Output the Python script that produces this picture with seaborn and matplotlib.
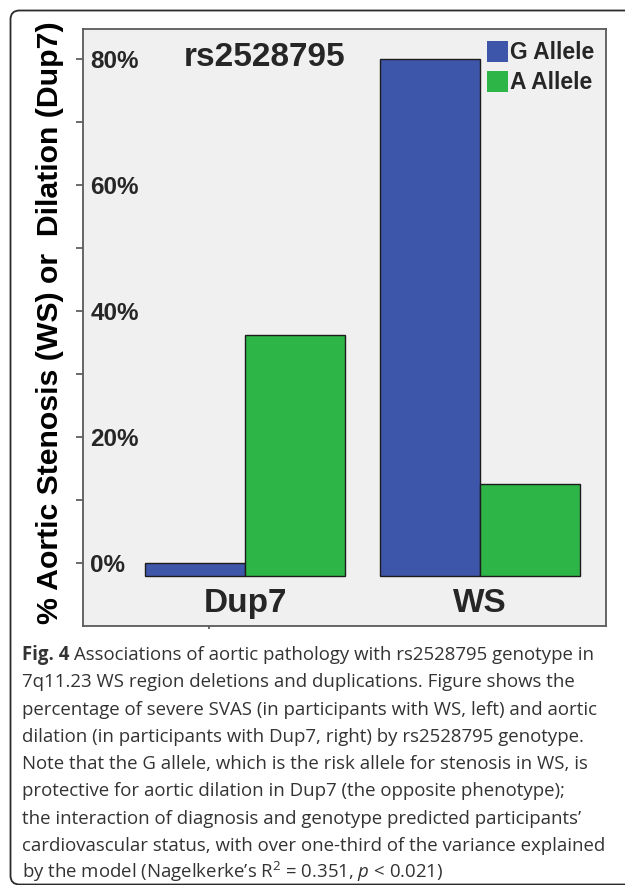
import matplotlib
matplotlib.use("Agg")
import matplotlib.pyplot as plt
from matplotlib.patches import FancyBboxPatch
from matplotlib.ticker import FuncFormatter
import seaborn as sns
import pandas as pd

# Percent with the outcome, by diagnosis group and rs2528795 allele
diagnoses = ["Dup7", "WS"]
alleles = ["G Allele", "A Allele"]
g_allele_pct = [0.0, 80.0]
a_allele_pct = [36.3, 12.6]
allele_colors = ["#3e56a9", "#2eb548"]
y_major = [0, 20, 40, 60, 80]
y_minor = [10, 30, 50, 70]
bar_floor = -2.0

caption_lines = [
    "Associations of aortic pathology with rs2528795 genotype in",
    "7q11.23 WS region deletions and duplications. Figure shows the",
    "percentage of severe SVAS (in participants with WS, left) and aortic",
    "dilation (in participants with Dup7, right) by rs2528795 genotype.",
    "Note that the G allele, which is the risk allele for stenosis in WS, is",
    "protective for aortic dilation in Dup7 (the opposite phenotype);",
    "the interaction of diagnosis and genotype predicted participants\u2019",
    "cardiovascular status, with over one-third of the variance explained",
    "by the model (Nagelkerke\u2019s R$^{2}$ = 0.351, $p$ < 0.021)",
]

df = pd.DataFrame({
    "Diagnosis": diagnoses * 2,
    "Allele": [alleles[0]] * 2 + [alleles[1]] * 2,
    "Percent": g_allele_pct + a_allele_pct,
})

sns.set_style("white")
plt.rcParams["font.family"] = ["Liberation Sans", "DejaVu Sans"]
plt.rcParams["mathtext.fontset"] = "custom"
plt.rcParams["mathtext.rm"] = "Open Sans"
plt.rcParams["mathtext.it"] = "Open Sans:italic"

W, H = 625, 885
fig = plt.figure(figsize=(W / 100, H / 100), dpi=100)
fig.patch.set_facecolor("white")

# rounded frame around figure + caption
frame = FancyBboxPatch((10.5, 0.5), 700, 874,
                       boxstyle="round,pad=0,rounding_size=9",
                       transform=None, facecolor="none",
                       edgecolor="#2a2a2a", linewidth=1.3, zorder=0)
fig.patches.append(frame)

ax = fig.add_axes([82.7 / W, 1 - 626 / H, (606 - 82.7) / W, (626 - 29.3) / H])
ax.set_facecolor("#f0f0f0")

sns.barplot(data=df, x="Diagnosis", y="Percent", hue="Allele",
            order=diagnoses, hue_order=alleles, palette=allele_colors,
            width=0.85, saturation=1, edgecolor="#1c1c1c", linewidth=1.0,
            ax=ax)

# bars rise from the floor of the axis rather than from zero
for bar in ax.patches:
    top = bar.get_y() + bar.get_height()
    bar.set_y(bar_floor)
    bar.set_height(top - bar_floor)

ax.set_ylim(-9.95, 84.76)
ax.set_xlim(-0.691, 1.536)

for side in ["left", "right", "top", "bottom"]:
    ax.spines[side].set_visible(True)
    ax.spines[side].set_color("#5a5a5a")
    ax.spines[side].set_linewidth(1.3)

ax.set_yticks(y_major)
ax.set_yticks(y_minor, minor=True)
ax.yaxis.set_major_formatter(FuncFormatter(lambda v, p: f"{v:.0f}%"))
ax.tick_params(axis="y", which="both", direction="out", length=5,
               width=1.1, color="#444444", left=True)
ax.tick_params(axis="y", which="major", pad=-10.5, labelsize=17.5)
for lab in ax.get_yticklabels():
    lab.set_horizontalalignment("left")
    lab.set_fontweight("bold")

ax.set_xticks(range(len(diagnoses)))
ax.set_xticklabels(diagnoses)
ax.set_xticks([-0.153, 1], minor=True)
ax.tick_params(axis="x", which="major", length=0, pad=-10.3, labelsize=24)
ax.tick_params(axis="x", which="minor", direction="out", length=2.5,
               width=1.1, color="#444444", bottom=True)
for lab in ax.get_xticklabels():
    lab.set_verticalalignment("baseline")
    lab.set_fontweight("bold")
ax.set_xlabel("")

ax.set_ylabel("% Aortic Stenosis (WS) or  Dilation (Dup7)",
              fontsize=21.8, fontweight="bold", color="black")
ax.yaxis.set_label_coords(-0.036, 0.508)

ax.text(0.348, 0.939, "rs2528795", transform=ax.transAxes,
        ha="center", va="baseline", fontsize=24, fontweight="bold")

handles, labels = ax.get_legend_handles_labels()
for h in handles:
    h.set_edgecolor("none")
ax.legend(handles, labels, loc="upper right", bbox_to_anchor=(1.0, 1.0),
          frameon=False, handlelength=0.92, handleheight=1.05,
          handletextpad=0.08, labelspacing=0.28, borderaxespad=0.3,
          borderpad=0.2, prop={"weight": "bold", "size": 16.5})

# caption
cap_font = {"family": ["Open Sans", "DejaVu Sans"], "size": 13.45,
            "color": "#333333"}
x0 = 22 / W
base0 = 660
step = 27.3
fig.canvas.draw()
renderer = fig.canvas.get_renderer()
bold = fig.text(x0, 1 - base0 / H, "Fig. 4", va="baseline", ha="left",
                fontweight="bold", **cap_font)
bb = bold.get_window_extent(renderer=renderer)
fig.text(bb.x1 / W + 5 / W, 1 - base0 / H, caption_lines[0],
         va="baseline", ha="left", **cap_font)
for i, line in enumerate(caption_lines[1:], start=1):
    fig.text(x0, 1 - (base0 + i * step) / H, line, va="baseline", ha="left",
             **cap_font)

fig.savefig("out.png", dpi=100, facecolor="white")
